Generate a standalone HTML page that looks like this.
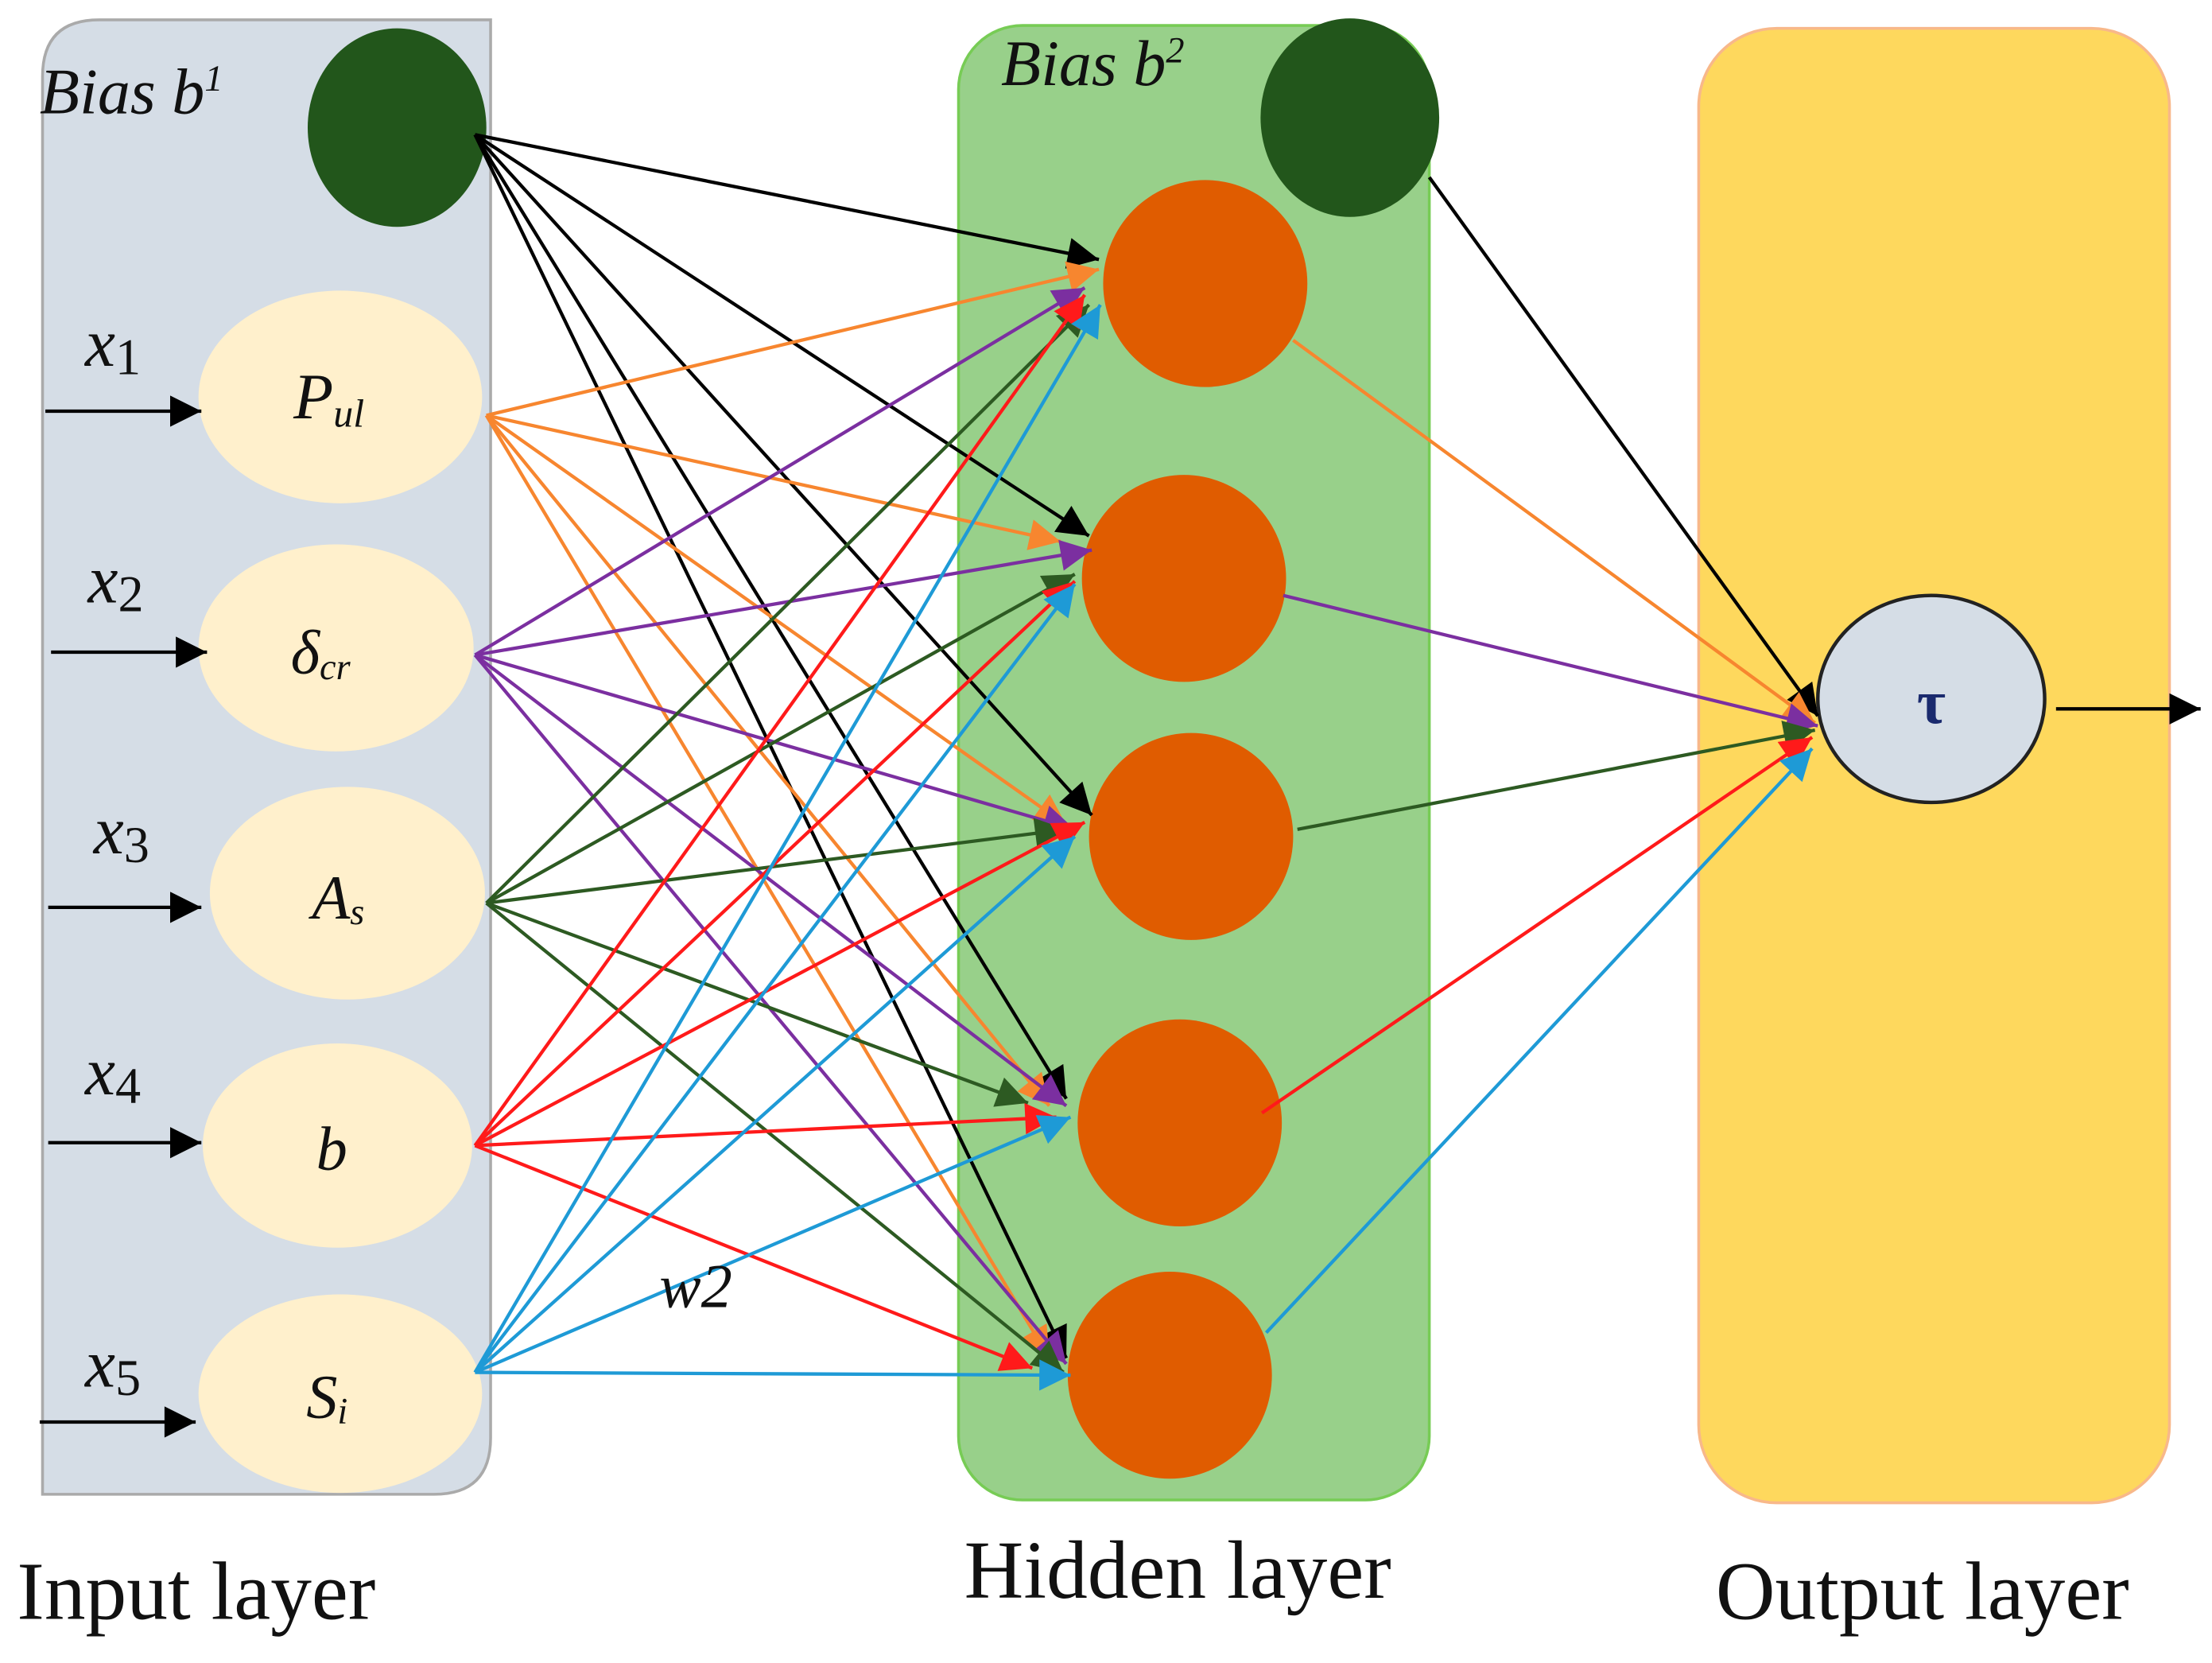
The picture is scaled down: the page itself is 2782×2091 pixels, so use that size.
<!DOCTYPE html>
<html><head><meta charset="utf-8"><style>
html,body{margin:0;padding:0;background:#fff}
svg{display:block}
</style></head><body>
<svg width="2782" height="2091" viewBox="0 0 1560 1173" preserveAspectRatio="none" xmlns="http://www.w3.org/2000/svg">
<defs>
<marker id="mk" viewBox="0 0 10 10" refX="10" refY="5" markerUnits="userSpaceOnUse" markerWidth="26" markerHeight="22" orient="auto"><path d="M0,0L10,5L0,10z" fill="#000"/></marker>
<marker id="mo" viewBox="0 0 10 10" refX="10" refY="5" markerUnits="userSpaceOnUse" markerWidth="26" markerHeight="22" orient="auto"><path d="M0,0L10,5L0,10z" fill="#f7862f"/></marker>
<marker id="mp" viewBox="0 0 10 10" refX="10" refY="5" markerUnits="userSpaceOnUse" markerWidth="26" markerHeight="22" orient="auto"><path d="M0,0L10,5L0,10z" fill="#7b2fa0"/></marker>
<marker id="mg" viewBox="0 0 10 10" refX="10" refY="5" markerUnits="userSpaceOnUse" markerWidth="26" markerHeight="22" orient="auto"><path d="M0,0L10,5L0,10z" fill="#2d5a22"/></marker>
<marker id="mr" viewBox="0 0 10 10" refX="10" refY="5" markerUnits="userSpaceOnUse" markerWidth="26" markerHeight="22" orient="auto"><path d="M0,0L10,5L0,10z" fill="#ff1a1a"/></marker>
<marker id="mb" viewBox="0 0 10 10" refX="10" refY="5" markerUnits="userSpaceOnUse" markerWidth="26" markerHeight="22" orient="auto"><path d="M0,0L10,5L0,10z" fill="#1e9ad6"/></marker>
</defs>
<path d="M30,54 Q30,14 70,14 L346,14 L346,1014 Q346,1054 306,1054 L30,1054 Z" fill="#d5dde6" stroke="#aaa" stroke-width="2"/>
<rect x="676" y="18" width="332" height="1040" rx="45" fill="#98d08a" stroke="#77cc55" stroke-width="2"/>
<rect x="1198" y="20" width="332" height="1040" rx="55" fill="#fed85d" stroke="#f8b88a" stroke-width="2"/>
<ellipse cx="280" cy="90" rx="63" ry="70" fill="#22561b"/>
<ellipse cx="240" cy="280" rx="100" ry="75" fill="#fff0cc"/>
<ellipse cx="237" cy="457" rx="97" ry="73" fill="#fff0cc"/>
<ellipse cx="245" cy="630" rx="97" ry="75" fill="#fff0cc"/>
<ellipse cx="238" cy="808" rx="95" ry="72" fill="#fff0cc"/>
<ellipse cx="240" cy="983" rx="100" ry="70" fill="#fff0cc"/>
<ellipse cx="952" cy="83" rx="63" ry="70" fill="#22561b"/>
<ellipse cx="850" cy="200" rx="72" ry="73" fill="#e05c00"/>
<ellipse cx="835" cy="408" rx="72" ry="73" fill="#e05c00"/>
<ellipse cx="840" cy="590" rx="72" ry="73" fill="#e05c00"/>
<ellipse cx="832" cy="792" rx="72" ry="73" fill="#e05c00"/>
<ellipse cx="825" cy="970" rx="72" ry="73" fill="#e05c00"/>
<ellipse cx="1362" cy="493" rx="80" ry="73" fill="#d5dde6" stroke="#222" stroke-width="2.5"/>
<g fill="none" stroke-width="2.4">
<g stroke="#000" marker-end="url(#mk)">
<line x1="335" y1="95" x2="775" y2="183"/>
<line x1="335" y1="95" x2="768" y2="378"/>
<line x1="335" y1="95" x2="770" y2="575"/>
<line x1="335" y1="95" x2="752" y2="775"/>
<line x1="335" y1="95" x2="752" y2="958"/>
</g>
<g stroke="#f7862f" marker-end="url(#mo)">
<line x1="343" y1="293" x2="775" y2="190"/>
<line x1="343" y1="293" x2="748" y2="382"/>
<line x1="343" y1="293" x2="752" y2="582"/>
<line x1="343" y1="293" x2="740" y2="780"/>
<line x1="343" y1="293" x2="740" y2="958"/>
</g>
<g stroke="#7b2fa0" marker-end="url(#mp)">
<line x1="335" y1="462" x2="765" y2="203"/>
<line x1="335" y1="462" x2="770" y2="388"/>
<line x1="335" y1="462" x2="758" y2="585"/>
<line x1="335" y1="462" x2="752" y2="780"/>
<line x1="335" y1="462" x2="752" y2="962"/>
</g>
<g stroke="#2d5a22" marker-end="url(#mg)">
<line x1="343" y1="637" x2="768" y2="215"/>
<line x1="343" y1="637" x2="758" y2="405"/>
<line x1="343" y1="637" x2="752" y2="585"/>
<line x1="343" y1="637" x2="725" y2="778"/>
<line x1="343" y1="637" x2="750" y2="968"/>
</g>
<g stroke="#ff1a1a" marker-end="url(#mr)">
<line x1="335" y1="808" x2="765" y2="208"/>
<line x1="335" y1="808" x2="758" y2="410"/>
<line x1="335" y1="808" x2="765" y2="580"/>
<line x1="335" y1="808" x2="745" y2="788"/>
<line x1="335" y1="808" x2="728" y2="965"/>
</g>
<g stroke="#1e9ad6" marker-end="url(#mb)">
<line x1="335" y1="968" x2="776" y2="215"/>
<line x1="335" y1="968" x2="758" y2="412"/>
<line x1="335" y1="968" x2="758" y2="590"/>
<line x1="335" y1="968" x2="755" y2="788"/>
<line x1="335" y1="968" x2="755" y2="970"/>
</g>
<line x1="1008" y1="125" x2="1282" y2="505" stroke="#000" marker-end="url(#mk)"/>
<line x1="912" y1="240" x2="1280" y2="510" stroke="#f7862f" marker-end="url(#mo)"/>
<line x1="905" y1="420" x2="1282" y2="512" stroke="#7b2fa0" marker-end="url(#mp)"/>
<line x1="915" y1="585" x2="1280" y2="515" stroke="#2d5a22" marker-end="url(#mg)"/>
<line x1="890" y1="785" x2="1278" y2="520" stroke="#ff1a1a" marker-end="url(#mr)"/>
<line x1="893" y1="940" x2="1278" y2="528" stroke="#1e9ad6" marker-end="url(#mb)"/>
<line x1="1450" y1="500" x2="1552" y2="500" stroke="#000" marker-end="url(#mk)"/>
<g stroke="#000" marker-end="url(#mk)">
<line x1="32" y1="290" x2="142" y2="290"/>
<line x1="36" y1="460" x2="146" y2="460"/>
<line x1="34" y1="640" x2="142" y2="640"/>
<line x1="34" y1="806" x2="142" y2="806"/>
<line x1="28" y1="1003" x2="138" y2="1003"/>
</g>
</g>
<g font-family="Liberation Serif, serif" font-style="italic" fill="#111">
<text x="28" y="80" font-size="46">Bias b<tspan font-size="26" dy="-16">1</tspan></text>
<text x="706" y="60" font-size="46">Bias b<tspan font-size="26" dy="-16">2</tspan></text>
<text x="60" y="258" font-size="48">x<tspan font-size="36" dy="6" font-style="normal">1</tspan></text>
<text x="62" y="425" font-size="48">x<tspan font-size="36" dy="6" font-style="normal">2</tspan></text>
<text x="66" y="602" font-size="48">x<tspan font-size="36" dy="6" font-style="normal">3</tspan></text>
<text x="60" y="772" font-size="48">x<tspan font-size="36" dy="6" font-style="normal">4</tspan></text>
<text x="60" y="978" font-size="48">x<tspan font-size="36" dy="6" font-style="normal">5</tspan></text>
<text x="207" y="295" font-size="46">P<tspan font-size="28" dy="6">ul</tspan></text>
<text x="205" y="475" font-size="44">δ<tspan font-size="26" dy="4">cr</tspan></text>
<text x="220" y="648" font-size="44">A<tspan font-size="26" dy="4">s</tspan></text>
<text x="223" y="825" font-size="44">b</text>
<text x="216" y="1000" font-size="44">S<tspan font-size="26" dy="4">i</tspan></text>
<text x="465" y="922" font-size="44">w2</text>
</g>
<text x="1362" y="510" font-family="Liberation Serif, serif" font-size="44" font-weight="bold" fill="#1a2a6e" text-anchor="middle">τ</text>
<g font-family="Liberation Serif, serif" font-size="58" fill="#111">
<text x="12" y="1142">Input layer</text>
<text x="680" y="1127">Hidden layer</text>
<text x="1210" y="1142">Output layer</text>
</g>
</svg>
</body></html>
